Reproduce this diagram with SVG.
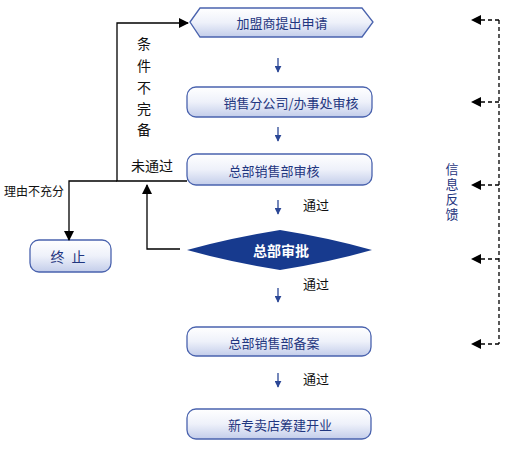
<svg xmlns="http://www.w3.org/2000/svg" width="505" height="470" viewBox="0 0 505 470">
<defs>
<linearGradient id="g" x1="0" y1="0" x2="0" y2="1">
<stop offset="0" stop-color="#ffffff"/>
<stop offset="0.5" stop-color="#eef1fa"/>
<stop offset="1" stop-color="#c3cdea"/>
</linearGradient>
<marker id="ah" viewBox="0 0 10 10" refX="9" refY="5" markerWidth="10" markerHeight="10" markerUnits="userSpaceOnUse" orient="auto">
<path d="M0,0 L10,5 L0,10 z" fill="#000"/>
</marker>
<marker id="ahs" viewBox="0 0 10 10" refX="9" refY="5" markerWidth="7" markerHeight="7" markerUnits="userSpaceOnUse" orient="auto">
<path d="M0,0 L10,5 L0,10 z" fill="#2b4796"/>
</marker>
</defs>
<style>
.box{fill:url(#g);stroke:#4a63ae;stroke-width:1.3}
.t{font-family:"Noto Sans CJK SC","Noto Sans",sans-serif;font-size:13px;fill:#1f3680;text-anchor:middle;dominant-baseline:central}
.lbl{font-family:"Noto Sans CJK SC","Noto Sans",sans-serif;font-size:13px;fill:#111;text-anchor:middle;dominant-baseline:central}
.ln{fill:none;stroke:#000;stroke-width:1.3}
.sm{fill:none;stroke:#2b4796;stroke-width:1.3}
.dash{fill:none;stroke:#000;stroke-width:1.3;stroke-dasharray:4,3}
</style>
<rect width="505" height="470" fill="#fff"/>
<g id="n1">
<path class="box" d="M190,22 L200,8 L362,8 L373,22 L362,37 L200,37 Z"/>
<text class="t" x="282" y="22">加盟商提出申请</text>
</g>
<g id="n2">
<rect class="box" x="187" y="87" width="185" height="30" rx="9"/>
<text class="t" x="291" y="102">销售分公司/办事处审核</text>
</g>
<g id="n3">
<rect class="box" x="187" y="154" width="185" height="31" rx="9"/>
<text class="t" x="274" y="170">总部销售部审核</text>
</g>
<g id="n4">
<path d="M187,250 Q230,238 280,230 Q330,238 372,250 Q330,262 280,270 Q230,262 187,250 Z" fill="#173a8e"/>
<text class="t" x="281" y="250" style="fill:#fff;font-weight:bold;font-size:14px">总部审批</text>
</g>
<g id="n5">
<rect class="box" x="187" y="327" width="184" height="29" rx="9"/>
<text class="t" x="274" y="342">总部销售部备案</text>
</g>
<g id="n6">
<rect class="box" x="187" y="409" width="184" height="30" rx="9"/>
<text class="t" x="280" y="424">新专卖店筹建开业</text>
</g>
<g id="n7">
<rect class="box" x="30" y="240" width="81" height="32" rx="9"/>
<text class="t" x="69" y="256" style="font-size:14px;letter-spacing:2px">终 止</text>
</g>
<g id="connectors">
<polyline class="ln" points="187,181 117,181 117,23 188,23" marker-end="url(#ah)"/>
<polyline class="ln" points="117,181 69,181 69,240" marker-end="url(#ah)"/>
<polyline class="ln" points="180,249 147,249 147,185" marker-end="url(#ah)"/>
<line class="sm" x1="278" y1="58" x2="278" y2="72" marker-end="url(#ahs)"/>
<line class="sm" x1="278" y1="127" x2="278" y2="141" marker-end="url(#ahs)"/>
<line class="sm" x1="278" y1="200" x2="278" y2="214" marker-end="url(#ahs)"/>
<line class="sm" x1="278" y1="288" x2="278" y2="302" marker-end="url(#ahs)"/>
<line class="sm" x1="278" y1="373" x2="278" y2="387" marker-end="url(#ahs)"/>
<line class="dash" x1="499" y1="20" x2="499" y2="344"/>
<line class="dash" x1="499" y1="20" x2="472" y2="20" marker-end="url(#ah)"/>
<line class="dash" x1="499" y1="102" x2="472" y2="102" marker-end="url(#ah)"/>
<line class="dash" x1="499" y1="185" x2="472" y2="185" marker-end="url(#ah)"/>
<line class="dash" x1="499" y1="259" x2="472" y2="259" marker-end="url(#ah)"/>
<line class="dash" x1="499" y1="344" x2="472" y2="344" marker-end="url(#ah)"/>
</g>
<g id="labels">
<text class="lbl" x="144" y="43" style="font-size:14px">条</text>
<text class="lbl" x="144" y="65" style="font-size:14px">件</text>
<text class="lbl" x="144" y="87" style="font-size:14px">不</text>
<text class="lbl" x="144" y="108" style="font-size:14px">完</text>
<text class="lbl" x="144" y="129" style="font-size:14px">备</text>
<text class="lbl" x="152" y="165" style="font-size:14px">未通过</text>
<text class="lbl" x="34" y="190" style="font-size:12px">理由不充分</text>
<text class="lbl" x="316" y="204">通过</text>
<text class="lbl" x="316" y="283">通过</text>
<text class="lbl" x="316" y="378">通过</text>
<text x="452" y="193" style="font-family:'Noto Sans CJK SC','Noto Sans',sans-serif;font-size:13px;fill:#1f3680;writing-mode:vertical-rl;text-anchor:middle;letter-spacing:2px">信息反馈</text>
</g>
</svg>
